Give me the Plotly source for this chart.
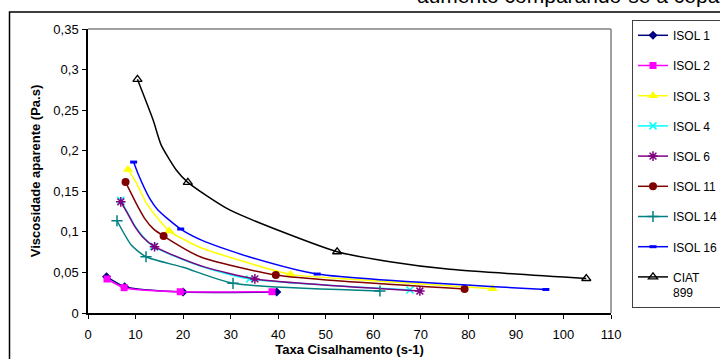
import plotly.graph_objects as go

# ---- data (shear rate s-1, apparent viscosity Pa.s); mark=1 -> point shown with a marker
names = ["ISOL 1", "ISOL 2", "ISOL 3", "ISOL 4", "ISOL 6", "ISOL 11", "ISOL 14", "ISOL 16", "CIAT<br>899"]

isol1_x = [3.9, 7.7, 20.0, 39.7]
isol1_y = [0.0447, 0.0324, 0.0258, 0.0258]
isol1_m = [1, 1, 1, 1]

isol2_x = [4.0, 7.6, 19.4, 38.7]
isol2_y = [0.0419, 0.0312, 0.0262, 0.0262]
isol2_m = [1, 1, 1, 1]

isol3_x = [8.4, 10.2, 12.3, 14.4, 17.1, 23.5, 30.5, 42.6, 57.0, 85.1]
isol3_y = [0.177, 0.160, 0.135, 0.1186, 0.101, 0.081, 0.0674, 0.0476, 0.041, 0.030]
isol3_m = [1, 0, 0, 0, 1, 0, 0, 1, 0, 1]

isol4_x = [6.9, 8.4, 9.8, 11.6, 13.7, 17.6, 24.6, 34.0, 67.7]
isol4_y = [0.139, 0.1228, 0.108, 0.094, 0.082, 0.0714, 0.056, 0.0419, 0.0283]
isol4_m = [1, 0, 0, 0, 1, 0, 0, 1, 1]

isol6_x = [6.9, 8.4, 9.8, 11.6, 14.0, 17.6, 24.6, 35.1, 69.8]
isol6_y = [0.137, 0.122, 0.107, 0.093, 0.0817, 0.072, 0.0565, 0.042, 0.0271]
isol6_m = [1, 0, 0, 0, 1, 0, 0, 1, 1]

isol11_x = [7.9, 10.5, 11.9, 13.7, 15.9, 23.6, 39.5, 79.2]
isol11_y = [0.1613, 0.131, 0.1166, 0.104, 0.0948, 0.0693, 0.0468, 0.0296]
isol11_m = [1, 0, 0, 0, 1, 0, 1, 1]

isol14_x = [6.1, 9.1, 12.2, 20.0, 30.5, 61.4]
isol14_y = [0.1137, 0.0838, 0.0693, 0.0563, 0.0366, 0.0271]
isol14_m = [1, 0, 1, 0, 1, 1]

isol16_x = [9.6, 10.5, 13.0, 14.7, 19.5, 24.6, 34.0, 48.2, 96.3]
isol16_y = [0.186, 0.172, 0.141, 0.127, 0.1035, 0.088, 0.069, 0.048, 0.029]
isol16_m = [1, 0, 0, 0, 1, 0, 0, 1, 1]

ciat_x = [10.4, 13.7, 15.4, 18.6, 21.0, 29.8, 52.4, 63.5, 76.1, 104.8]
ciat_y = [0.288, 0.2377, 0.2069, 0.176, 0.161, 0.127, 0.0755, 0.0632, 0.0538, 0.0425]
ciat_m = [1, 0, 0, 0, 1, 0, 1, 0, 0, 1]

series = [
    (isol1_x, isol1_y, isol1_m),
    (isol2_x, isol2_y, isol2_m),
    (isol3_x, isol3_y, isol3_m),
    (isol4_x, isol4_y, isol4_m),
    (isol6_x, isol6_y, isol6_m),
    (isol11_x, isol11_y, isol11_m),
    (isol14_x, isol14_y, isol14_m),
    (isol16_x, isol16_y, isol16_m),
    (ciat_x, ciat_y, ciat_m),
]

# ---- styles
colors = ["#000080", "#FF00FF", "#FFFF00", "#00FFFF", "#800080", "#800000", "#008080", "#0000FF", "#000000"]
symbols = ["diamond", "square", "triangle-up", "x-thin-open", "asterisk-open", "circle",
           "cross-thin-open", "line-ew-open", "triangle-up-open"]
msizes = [7, 7, 9, 7, 8, 8, 8, 5, 8]
mlw = [0, 0, 0, 1.5, 1.5, 0, 1.5, 3, 1.3]

font = "Liberation Sans, Arial, sans-serif"
fig = go.Figure()
for i, (xs, ys, ms) in enumerate(series):
    c = colors[i]
    marker = dict(symbol=symbols[i], size=msizes[i], color=c, line=dict(color=c, width=mlw[i]))
    fig.add_trace(go.Scatter(x=xs, y=ys, mode="lines", line=dict(color=c, width=1.5, shape="spline", smoothing=0.6),
                             showlegend=False, legendgroup=str(i), hoverinfo="skip"))
    mx = [x for x, m in zip(xs, ms) if m]
    my = [y for y, m in zip(ys, ms) if m]
    fig.add_trace(go.Scatter(x=mx, y=my, mode="markers", marker=marker, showlegend=False,
                             legendgroup=str(i), name=names[i]))
    fig.add_trace(go.Scatter(x=[None], y=[None], mode="lines+markers", name=names[i],
                             line=dict(color=c, width=1.5), marker=marker, legendgroup=str(i)))

W, H = 720, 359
L, R, T, B = 88, 109, 29, 46
pw, ph = W - L - R, H - T - B

def px_x(p):
    return (p - L) / pw

def px_y(p):
    return (H - B - p) / ph

fig.update_layout(
    width=W, height=H,
    margin=dict(l=L, r=R, t=T, b=B, autoexpand=False),
    paper_bgcolor="white", plot_bgcolor="white",
    separators=",.",
    font=dict(family=font, size=12, color="#000000"),
    xaxis=dict(range=[0, 110], dtick=10, tick0=0, ticks="outside", ticklen=4, tickcolor="black",
               showgrid=False, zeroline=False, showline=True, linecolor="black", linewidth=1.5,
               automargin=False, tickfont=dict(size=13), ticklabelstandoff=5,
               title=dict(text="<b>Taxa Cisalhamento (s-1)</b>", font=dict(size=13), standoff=1)),
    yaxis=dict(range=[0, 0.35], dtick=0.05, tick0=0, ticks="outside", ticklen=4, tickcolor="black",
               showgrid=False, zeroline=False, showline=True, linecolor="black", linewidth=1.5,
               automargin=False, tickfont=dict(size=13), ticklabelstandoff=1,
               title=dict(text="<b>Viscosidade aparente (Pa.s)</b>", font=dict(size=13), standoff=10)),
    legend=dict(x=px_x(632), y=px_y(20), xanchor="left", yanchor="top", valign="top",
                bordercolor="#404040", borderwidth=1, bgcolor="white",
                font=dict(size=12), tracegroupgap=11.2, itemwidth=30),
    showlegend=True,
)
try:
    fig.update_layout(legend_maxheight=330)
except Exception:
    pass

# gray top / right frame of the plot area
fig.add_shape(type="line", xref="paper", yref="paper", x0=0, x1=1, y0=1, y1=1,
              line=dict(color="#808080", width=1.5))
fig.add_shape(type="line", xref="paper", yref="paper", x0=1, x1=1, y0=0, y1=1,
              line=dict(color="#808080", width=1.5))
# outer chart border
fig.add_shape(type="rect", xref="paper", yref="paper", x0=px_x(9.5), x1=px_x(760), y0=px_y(400), y1=px_y(12),
              line=dict(color="#000000", width=1.5), layer="below")

fig.add_annotation(text="aumento comparando-se a cepa padrão", xref="paper", yref="paper",
                   x=px_x(415), y=px_y(9), xanchor="left", yanchor="bottom", showarrow=False,
                   font=dict(size=21, family=font, color="black"))

fig.write_html("out.html", config={"displayModeBar": False},
               post_script="document.body.style.margin='0px';")
